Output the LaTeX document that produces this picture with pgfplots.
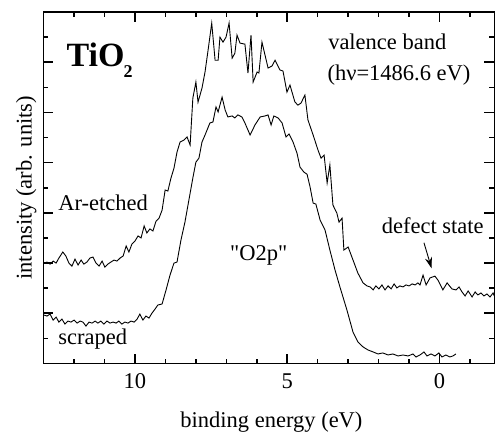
\documentclass[border=0pt]{standalone}
\usepackage{fontspec}
\setmainfont{Liberation Serif}[Ligatures=TeXOff]
\usepackage{pgfplots}
\pgfplotsset{compat=1.18}
\usetikzlibrary{arrows.meta}
\newcommand{\fs}{\fontsize{22.5}{27}\selectfont}
\begin{document}
\begin{tikzpicture}
\path[use as bounding box] (-43.5pt,-68.5pt) rectangle (452.5pt,363.5pt);
\begin{axis}[
  scale only axis, width=451pt, height=351.5pt,
  at={(0pt,0pt)}, anchor=south west,
  x dir=reverse, xmin=-1.806, xmax=13.005, ymin=0, ymax=14,
  xtick={0,5,10}, minor xtick={-1,1,2,3,4,6,7,8,9,11,12},
  ytick={0,2,...,14}, minor ytick={1,3,...,13}, yticklabels={},
  tick align=inside, major tick length=10pt, minor tick length=5pt,
  axis line style={line width=1.6pt},
  every tick/.style={line width=1.6pt, black},
  /pgf/number format/assume math mode=true,
  tick label style={font=\fs},
  xticklabel style={yshift=-6.5pt},
  label style={font=\fs},
  xlabel={binding energy (eV)},
  ylabel={intensity (arb. units)},
  xlabel style={at={(axis description cs:0.5055,0)}, anchor=base, yshift=-63.5pt},
  ylabel style={at={(axis description cs:-0.0262,0.5)}, anchor=base},
  clip=false,
]
% Ar-etched
\addplot[black, line width=0.9pt, no marks] coordinates {
(12.99,4.00)(12.89,4.04)(12.79,3.96)(12.69,4.08)(12.59,4.00)(12.50,4.20)(12.37,4.44)(12.27,4.28)
(12.17,4.00)(12.07,3.88)(11.97,4.16)(11.87,3.92)(11.77,4.12)(11.68,3.96)(11.58,4.04)(11.48,4.20)
(11.38,4.24)(11.28,4.00)(11.18,3.88)(11.08,4.08)(10.99,3.84)(10.89,3.96)(10.79,4.04)(10.69,4.12)
(10.59,4.08)(10.49,4.20)(10.39,4.28)(10.29,4.68)(10.20,4.44)(10.10,4.76)(10.00,4.88)(9.90,5.08)
(9.80,5.00)(9.70,5.48)(9.61,5.20)(9.51,5.36)(9.41,5.28)(9.31,5.67)(9.21,5.79)(9.11,6.11)
(9.01,6.91)(8.92,6.87)(8.82,7.38)(8.72,7.78)(8.62,8.42)(8.52,8.82)(8.39,8.90)(8.29,9.02)
(8.19,8.70)(8.10,10.57)(8.00,11.21)(7.93,10.41)(7.80,10.97)(7.70,11.61)(7.60,12.48)(7.48,13.56)
(7.37,12.08)(7.27,12.08)(7.21,13.00)(7.11,12.80)(7.01,13.00)(6.91,13.56)(6.81,12.16)(6.72,12.36)
(6.65,13.08)(6.55,12.76)(6.39,12.72)(6.29,11.57)(6.19,13.08)(6.12,11.21)(5.99,11.61)(5.93,11.57)
(5.83,12.80)(5.63,11.77)(5.50,11.85)(5.40,12.08)(5.24,11.69)(5.14,11.65)(5.01,10.81)(4.91,11.09)
(4.75,10.42)(4.65,10.29)(4.55,10.37)(4.42,10.69)(4.32,9.70)(4.15,9.10)(3.99,8.50)(3.89,8.18)
(3.79,8.30)(3.69,7.19)(3.60,7.91)(3.50,6.31)(3.37,5.99)(3.30,5.63)(3.20,5.79)(3.14,4.52)
(3.00,4.64)(2.84,4.12)(2.68,3.60)(2.51,3.21)(2.38,3.09)(2.28,3.05)(2.18,2.93)(2.09,3.09)
(1.99,2.97)(1.89,3.13)(1.79,2.93)(1.69,3.09)(1.59,2.97)(1.49,3.17)(1.40,3.01)(1.30,3.09)
(1.20,3.05)(1.10,3.13)(1.00,3.09)(0.90,3.17)(0.80,3.13)(0.71,3.21)(0.64,3.13)(0.54,3.52)
(0.44,3.13)(0.31,3.41)(0.15,3.48)(0.05,3.32)(-0.11,2.93)(-0.25,3.21)(-0.41,2.97)(-0.54,2.93)
(-0.64,3.05)(-0.74,2.85)(-0.84,2.69)(-0.94,2.89)(-1.07,2.65)(-1.17,2.85)(-1.26,2.73)(-1.36,2.81)
(-1.46,2.69)(-1.56,2.77)(-1.66,2.65)(-1.76,2.81)(-1.80,2.69)
};
% scraped
\addplot[black, line width=0.9pt, no marks] coordinates {
(12.99,1.93)(12.89,1.89)(12.79,1.97)(12.69,1.73)(12.59,1.85)(12.50,1.65)(12.40,1.77)(12.30,1.57)
(12.20,1.69)(12.10,1.65)(12.00,1.73)(11.90,1.61)(11.80,1.69)(11.71,1.65)(11.61,1.49)(11.51,1.65)
(11.41,1.61)(11.31,1.69)(11.22,1.61)(11.12,1.69)(11.02,1.57)(10.92,1.69)(10.82,1.61)(10.72,1.65)
(10.62,1.61)(10.53,1.69)(10.43,1.57)(10.33,1.65)(10.23,1.61)(10.13,1.69)(10.03,1.65)(9.93,1.77)
(9.84,1.97)(9.74,1.73)(9.64,1.89)(9.54,1.81)(9.44,2.01)(9.34,2.17)(9.25,2.33)(9.11,2.37)
(8.98,2.93)(8.85,3.52)(8.72,4.00)(8.62,4.04)(8.49,4.92)(8.36,5.63)(8.23,6.51)(8.10,7.39)
(8.00,8.02)(7.90,8.18)(7.80,8.82)(7.70,9.10)(7.54,9.58)(7.44,9.62)(7.34,10.22)(7.27,10.02)
(7.14,10.61)(7.04,10.10)(6.95,9.82)(6.81,9.86)(6.72,9.78)(6.62,9.90)(6.49,9.82)(6.39,9.58)
(6.22,9.10)(6.06,9.50)(5.89,9.82)(5.73,9.86)(5.63,9.90)(5.53,9.50)(5.44,9.86)(5.30,9.78)
(5.17,9.58)(5.04,9.02)(4.94,9.14)(4.81,8.82)(4.68,8.38)(4.58,7.82)(4.45,7.62)(4.35,7.54)
(4.25,7.03)(4.15,6.39)(4.06,6.35)(3.92,5.71)(3.76,5.32)(3.60,4.52)(3.43,3.72)(3.27,3.05)
(3.04,2.13)(2.84,1.25)(2.68,0.86)(2.51,0.66)(2.35,0.54)(2.18,0.46)(2.02,0.38)(1.86,0.42)
(1.69,0.34)(1.53,0.38)(1.36,0.30)(1.20,0.34)(1.03,0.30)(0.87,0.38)(0.77,0.26)(0.64,0.34)
(0.51,0.46)(0.41,0.30)(0.28,0.38)(0.15,0.30)(0.02,0.42)(-0.08,0.26)(-0.21,0.34)(-0.34,0.26)
(-0.44,0.30)(-0.54,0.38)
};
\node[anchor=base west, inner sep=0pt] at (axis cs:12.25,11.81)
  {\fontsize{34}{40}\selectfont\bfseries TiO\kern-1pt\raisebox{-11pt}{\fontsize{18}{20}\selectfont\bfseries 2}};
\node[anchor=base west, inner sep=0pt, font=\fs] at (axis cs:3.66,12.49) {valence band};
\node[anchor=base west, inner sep=0pt, font=\fs] at (axis cs:3.68,11.29) {(hν=1486.6 eV)};
\node[anchor=base west, inner sep=0pt, font=\fs] at (axis cs:12.52,6.11) {Ar-etched};
\node[anchor=base west, inner sep=0pt, font=\fs] at (axis cs:12.52,0.74) {scraped};
\node[anchor=base west, inner sep=0pt, font=\fs] at (axis cs:6.88,4.12) {"O2p"};
\node[anchor=base west, inner sep=0pt, font=\fs] at (axis cs:1.90,5.19) {defect state};
\draw[-{Stealth[length=11pt,width=7pt]}, line width=0.9pt] (axis cs:0.51,4.81) -- (axis cs:0.26,3.79);
\end{axis}
\end{tikzpicture}
\end{document}
